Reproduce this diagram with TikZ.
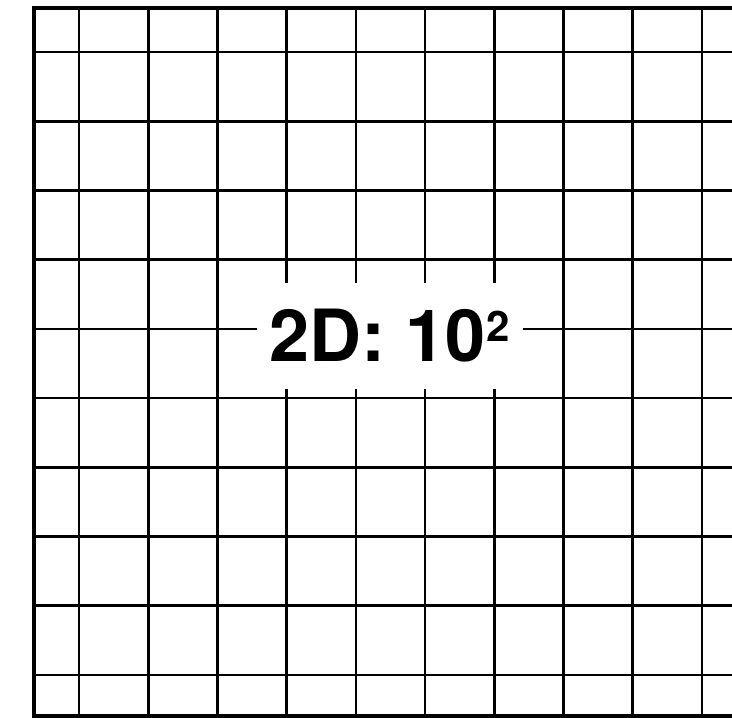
\documentclass[tikz,border=0pt]{standalone}
\usepackage{fontspec}
\setmainfont{TeX Gyre Heros}
\begin{document}
\begin{tikzpicture}[x=1pt,y=-1pt,
  gridline/.style={line width=2.6pt,black},
  borderline/.style={line width=4.5pt,black},
  labelbox/.style={fill=white,inner sep=0pt,minimum width=266pt,minimum height=106pt,font=\bfseries\fontsize{72}{72}\selectfont}]
\useasboundingbox (0,0) rectangle (732,718);
\foreach \k in {0,...,9}{
  \draw[gridline] ({79+69.2*\k},8) -- ({79+69.2*\k},716);
  \draw[gridline] (34,{52+69.2*\k}) -- (732,{52+69.2*\k});
}
\draw[borderline] (732,8) -- (34,8) -- (34,716) -- (732,716);
\node[labelbox] (label) at (390,336) {2D: 10\kern1pt{\fontsize{42}{42}\selectfont\raisebox{20pt}{2}}};
\end{tikzpicture}
\end{document}
